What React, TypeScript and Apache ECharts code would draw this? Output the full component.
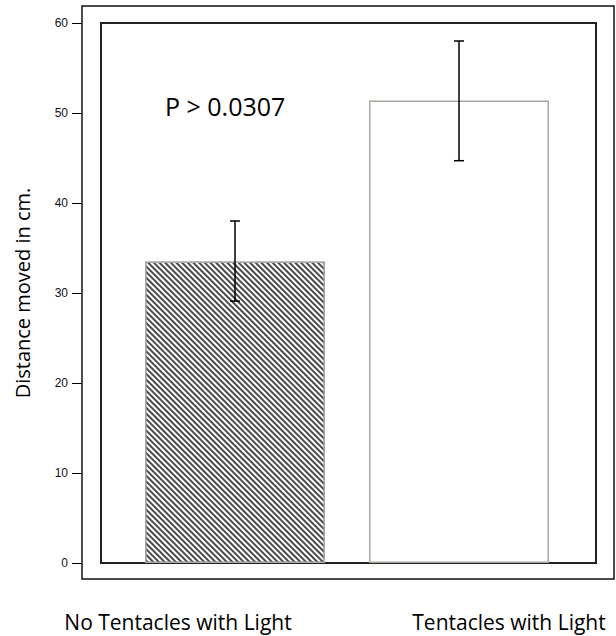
import React, { useEffect, useRef } from "react";
import * as echarts from "echarts";

const categories = ["No Tentacles with Light", "Tentacles with Light"];
const means = [33.5, 51.4];
const errLow = [29.1, 44.7];
const errHigh = [38.0, 58.0];
const pLabel = "P > 0.0307";
const yTitle = "Distance moved in cm.";
const labelCenters = [178, 509];

export default function App() {
  const ref = useRef<HTMLDivElement>(null);
  useEffect(() => {
    const chart = echarts.init(ref.current!, null, { renderer: "svg" });
    chart.setOption({
      animation: false,
      backgroundColor: "#ffffff",
      grid: { left: 123, right: 45, top: 23, bottom: 73 },
      xAxis: {
        type: "category",
        data: categories,
        axisLine: { show: false },
        axisTick: { show: false },
        axisLabel: { show: false },
      },
      yAxis: {
        type: "value",
        min: 0,
        max: 60,
        interval: 10,
        offset: 41,
        axisLine: { show: false },
        axisTick: { show: true, length: 10, lineStyle: { color: "#000", width: 1 } },
        axisLabel: { margin: 14, fontFamily: "Liberation Sans", fontSize: 12, color: "#111" },
        splitLine: { show: false },
        name: yTitle,
        nameLocation: "middle",
        nameGap: 50,
        nameTextStyle: { fontFamily: "Open Sans", fontSize: 20, color: "#000" },
      },
      graphic: [
        {
          type: "rect",
          shape: { x: 82, y: 6, width: 532, height: 573 },
          style: { fill: "none", stroke: "#111", lineWidth: 1.5 },
          z: 0,
        },
        {
          type: "rect",
          shape: { x: 101, y: 23, width: 495, height: 540 },
          style: { fill: "none", stroke: "#222", lineWidth: 2 },
          z: 0,
        },
        {
          type: "text",
          x: 165,
          y: 106,
          style: {
            text: pLabel,
            font: "25px 'Open Sans'",
            fill: "#000",
            textAlign: "left",
            textVerticalAlign: "middle",
          },
        },
        ...categories.map((c, i) => ({
          type: "text",
          x: labelCenters[i],
          y: 622,
          style: {
            text: c,
            font: "21px 'Open Sans'",
            fill: "#000",
            textAlign: "center",
            textVerticalAlign: "middle",
          },
        })),
      ],
      series: [
        {
          type: "bar",
          barWidth: 180,
          data: means.map((v, i) => ({
            value: v,
            itemStyle:
              i === 0
                ? {
                    color: "#ffffff",
                    borderColor: "#a9a9a9",
                    borderWidth: 1.5,
                    decal: {
                      symbol: "rect",
                      symbolSize: 1,
                      color: "#4a4a4a",
                      dashArrayX: [1, 0],
                      dashArrayY: [1.4, 1.4],
                      rotation: Math.PI / 4,
                    },
                  }
                : { color: "#ffffff", borderColor: "#aaa59d", borderWidth: 1.5 },
          })),
          z: 2,
        },
        {
          type: "custom",
          z: 5,
          data: categories.map((_, i) => [i, errLow[i], errHigh[i]]),
          renderItem: (params: any, api: any) => {
            const x = api.value(0);
            const lo = api.coord([x, api.value(1)]);
            const hi = api.coord([x, api.value(2)]);
            const hw = 5;
            const st = { stroke: "#000", lineWidth: 1.5 };
            return {
              type: "group",
              children: [
                { type: "line", shape: { x1: lo[0], y1: lo[1], x2: hi[0], y2: hi[1] }, style: st },
                { type: "line", shape: { x1: lo[0] - hw, y1: lo[1], x2: lo[0] + hw, y2: lo[1] }, style: st },
                { type: "line", shape: { x1: hi[0] - hw, y1: hi[1], x2: hi[0] + hw, y2: hi[1] }, style: st },
              ],
            };
          },
        },
      ],
    });
    return () => chart.dispose();
  }, []);
  return (
    <div
      ref={ref}
      style={{ position: "fixed", left: 0, top: 0, width: 616, height: 636 }}
    />
  );
}
